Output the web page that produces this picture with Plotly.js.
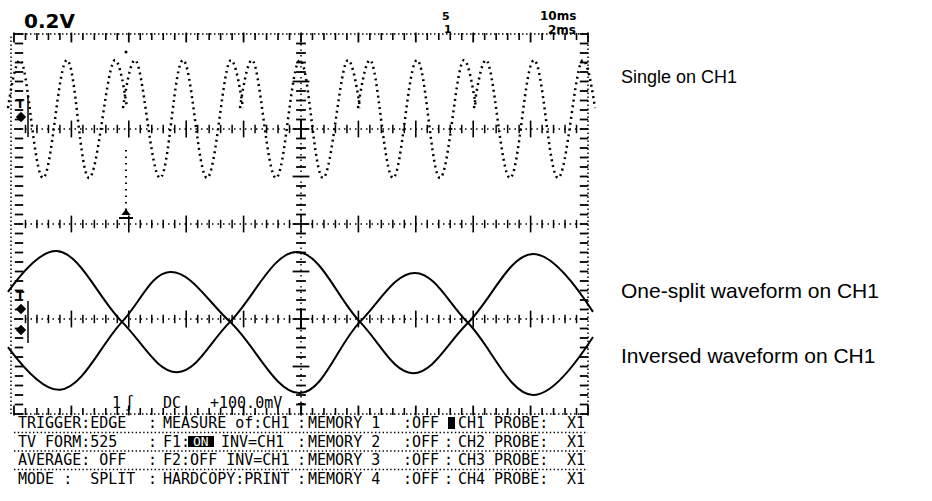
<!DOCTYPE html>
<html><head><meta charset="utf-8">
<script src="https://cdn.plot.ly/plotly-3.0.1.min.js"></script>
<style>html,body{margin:0;padding:0;background:#fff;}#chart{width:932px;height:501px;}</style>
</head><body><div id="chart"></div>
<script>
// ---------- data (time in divisions, voltage in divisions) ----------
const singleTime = [-0.105,0.105,0.505,0.923,1.307,1.760,1.969,null,
  1.899,2.108,2.544,2.944,3.362,3.780,3.990,null,
  3.937,4.146,4.564,4.983,5.383,5.819,6.028,null,
  5.993,6.202,6.603,7.021,7.422,7.840,8.049,null,
  8.014,8.223,8.641,9.059,9.477,9.913,10.122];
const singleVolt = [2.44,3.45,0.97,3.45,0.97,3.45,2.44,null,
  2.44,3.45,0.97,3.45,0.97,3.45,2.44,null,
  2.44,3.45,0.97,3.45,0.97,3.45,2.44,null,
  2.44,3.45,0.97,3.45,0.97,3.45,2.44,null,
  2.44,3.45,0.97,3.45,0.97,3.45,2.44];
const splitTime = [-0.105,0.749,1.882,2.840,3.763,4.930,6.028,6.951,7.909,9.042,10.087];
const splitVolt = [-1.43,-0.57,-2.06,-3.12,-2.06,-0.59,-2.06,-3.14,-2.08,-0.63,-1.85];
const invTime = [-0.105,0.801,1.882,2.718,3.763,4.983,6.028,6.986,7.909,9.042,10.087];
const invVolt = [-2.59,-3.49,-2.06,-1.01,-2.06,-3.56,-2.06,-1.03,-2.08,-3.60,-2.38];

const sideLabels = ["Single on CH1","One-split waveform on CH1","Inversed waveform on CH1"];
const voltDiv = "0.2V";
const timeTop = ["5","10ms"];
const timeBottom = ["1","2ms"];
const trigInfo = ["1","\u222B","DC","+100.0mV"];
const menuCol1 = ["TRIGGER:EDGE","TV FORM:525","AVERAGE: OFF","MODE :  SPLIT"];
const menuCol2 = ["MEASURE of:CH1","F1:","F2:OFF INV=CH1","HARDCOPY:PRINT"];
const f1State = "ON";
const f1Rest = "INV=CH1";
const menuCol3 = ["MEMORY 1","MEMORY 2","MEMORY 3","MEMORY 4"];
const menuCol3Val = [":OFF",":OFF",":OFF",":OFF"];
const menuCol4 = ["CH1 PROBE:","CH2 PROBE:","CH3 PROBE:","CH4 PROBE:"];
const menuCol4Val = ["X1","X1","X1","X1"];

// ---------- geometry helpers (pixel -> axis units) ----------
const X0 = 14, Y0 = 224, DX = 57.4, DY = 47.5;
const fx = px => (px - X0) / DX;
const fy = py => (Y0 - py) / DY;
const K = '#000';

const traces = [];
function tickTrace(xs, ys, symbol, size, width) {
  traces.push({type:'scatter', mode:'markers', x:xs, y:ys, hoverinfo:'skip',
    marker:{symbol:symbol, size:size, color:K, line:{width:width, color:K}}});
}
const steps = (a, b, s) => { const r = []; for (let v = a; v <= b + 1e-9; v += s) r.push(+v.toFixed(3)); return r; };
const minorX = steps(0, 10, 0.2).filter(v => Math.abs(v - Math.round(v)) > 1e-6);
const majorX = steps(0, 10, 1);
const minorY = steps(-4, 4, 0.2).filter(v => Math.abs(v - Math.round(v)) > 1e-6);
const majorY = steps(-4, 4, 1);

// border ticks
tickTrace(minorX, minorX.map(() => fy(36.5)), 'line-ns', 5, 1.6);
tickTrace(majorX, majorX.map(() => fy(37.5)), 'line-ns', 7, 1.8);
tickTrace(minorX, minorX.map(() => fy(411.5)), 'line-ns', 5, 1.6);
tickTrace(majorX, majorX.map(() => fy(410.5)), 'line-ns', 7, 1.8);
const allY = minorY.concat(majorY);
tickTrace(allY.map(() => fx(19)), allY, 'line-ew', 6, 1.8);
tickTrace(allY.map(() => fx(584)), allY, 'line-ew', 6, 1.8);
// horizontal graticule axes
[2, 0, -2].forEach(yv => {
  tickTrace(minorX, minorX.map(() => yv), 'line-ns', 6, 1.5);
  tickTrace(majorX.slice(1, -1), majorX.slice(1, -1).map(() => yv), 'line-ns', 12, 1.6);
});
// vertical centre axis
tickTrace(minorY.map(() => 5), minorY, 'line-ew', 7, 1.8);
tickTrace(majorY.slice(1, -1).map(() => 5), majorY.slice(1, -1), 'line-ew', 12, 1.8);
tickTrace([5, 5], [2, -2], 'line-ns', 14, 1.8);

// waveforms
traces.push({type:'scatter', mode:'lines', x:singleTime, y:singleVolt, connectgaps:false, hoverinfo:'skip',
  line:{color:K, width:2.5, dash:'2px,3.8px', shape:'spline', smoothing:1.1}});
traces.push({type:'scatter', mode:'lines', x:splitTime, y:splitVolt, hoverinfo:'skip',
  line:{color:K, width:2, shape:'spline', smoothing:1.1}});
traces.push({type:'scatter', mode:'lines', x:invTime, y:invVolt, hoverinfo:'skip',
  line:{color:K, width:2, shape:'spline', smoothing:1.1}});

// markers on left edge and trigger position
tickTrace([fx(21), fx(21), fx(21)], [fy(117), fy(309), fy(330)], 'diamond', 8, 0);
traces.push({type:'scatter', mode:'markers', x:[fx(126)], y:[fy(213)], hoverinfo:'skip',
  marker:{symbol:'triangle-up', size:8, color:K}});
tickTrace([fx(126)], [fy(218)], 'line-ew', 10, 2);
tickTrace([fx(126)], [fy(52)], 'circle', 3, 0);
tickTrace([fx(28), fx(28)], [fy(116), fy(322)], 'line-ns', 30, 1.5);

// dotted lines (shapes)
const dotted = (x0, y0, x1, y1, dash, w) => ({type:'line', xref:'x', yref:'y', x0, y0, x1, y1,
  line:{color:K, width:w || 1.5, dash:dash || '1.5px,2.5px'}});
const shapes = [
  dotted(0, 4, 10, 4), dotted(0, -4, 10, -4), dotted(fx(11), -4, fx(11), 4), dotted(10, -4, 10, 4),
  dotted(0, 2, 10, 2, '1.5px,4px'), dotted(0, 0, 10, 0, '1.5px,4px'), dotted(0, -2, 10, -2, '1.5px,4px'),
  dotted(5, -4, 5, 4, '1.5px,4px'),
  dotted(fx(126), fy(150), fx(126), fy(210), '1.5px,5px', 2),
  dotted(0, fy(432.5), 10, fy(432.5), '1.4px,2.4px', 1.3),
  dotted(0, fy(451), 10, fy(451), '1.4px,2.4px', 1.3),
  dotted(0, fy(469.5), 10, fy(469.5), '1.4px,2.4px', 1.3),
  {type:'rect', xref:'x', yref:'y', x0:fx(188), x1:fx(214), y0:fy(436), y1:fy(447), fillcolor:K, line:{width:0}},
  {type:'rect', xref:'x', yref:'y', x0:fx(448), x1:fx(455), y0:fy(417), y1:fy(429), fillcolor:K, line:{width:0}}
];

// text
const anns = [];
function ann(text, px, py, o) {
  o = o || {};
  anns.push({xref:'x', yref:'y', x:fx(px), y:fy(py), text:text, showarrow:false,
    xanchor:o.xa || 'left', yanchor:'middle', borderpad:0,
    bgcolor:o.bg, font:{family:o.fam || 'DejaVu Sans Mono', size:o.size || 15, color:o.color || K, weight:o.w || 'normal'}});
}
ann(voltDiv, 23, 21, {fam:'DejaVu Sans', size:20, w:'bold'});
ann(timeTop[0], 446, 16, {fam:'DejaVu Sans', size:11, w:'bold', xa:'center'});
ann(timeBottom[0], 448, 29.5, {fam:'DejaVu Sans', size:11, w:'bold', xa:'center'});
ann(timeTop[1], 577, 16, {fam:'DejaVu Sans', size:12, w:'bold', xa:'right'});
ann(timeBottom[1], 577, 29.5, {fam:'DejaVu Sans', size:12, w:'bold', xa:'right'});
const sideY = [77, 290, 355];
const sideSize = [18, 21, 21];
sideLabels.forEach((t, i) => ann(t, 620, sideY[i], {fam:'Liberation Sans', size:sideSize[i]}));
ann('T', 20, 104, {fam:'DejaVu Sans', size:12, w:'bold', xa:'center'});
ann('T', 20, 296, {fam:'DejaVu Sans', size:12, w:'bold', xa:'center'});
ann('T', 301, 407, {fam:'DejaVu Sans', size:11, xa:'center'});
const trigX = [111, 124, 162, 209];
trigInfo.forEach((t, i) => ann(t, trigX[i], 403));
const rowY = [423, 441.5, 460, 479];
rowY.forEach((y, i) => {
  ann(menuCol1[i], 17, y);
  ann(':', 147, y);
  ann(menuCol2[i], 162, y);
  ann(':', 296, y);
  ann(menuCol3[i], 307, y);
  ann(menuCol3Val[i], 402, y);
  if (i > 0) ann(':', 443, y);
  ann(menuCol4[i], 457, y);
  ann(menuCol4Val[i], 566, y);
});
ann(f1State, 201, 441.5, {color:'#fff', xa:'center', size:13});
ann(f1Rest, 220, 441.5);

const layout = {
  width:932, height:501, margin:{l:0, r:0, t:0, b:0, pad:0},
  paper_bgcolor:'#fff', plot_bgcolor:'#fff', showlegend:false, hovermode:false,
  xaxis:{range:[fx(0), fx(932)], showgrid:false, zeroline:false, showticklabels:false, ticks:'', showline:false, fixedrange:true},
  yaxis:{range:[fy(501), fy(0)], showgrid:false, zeroline:false, showticklabels:false, ticks:'', showline:false, fixedrange:true},
  shapes:shapes, annotations:anns
};
Plotly.newPlot('chart', traces, layout, {displayModeBar:false, staticPlot:true});
</script></body></html>
